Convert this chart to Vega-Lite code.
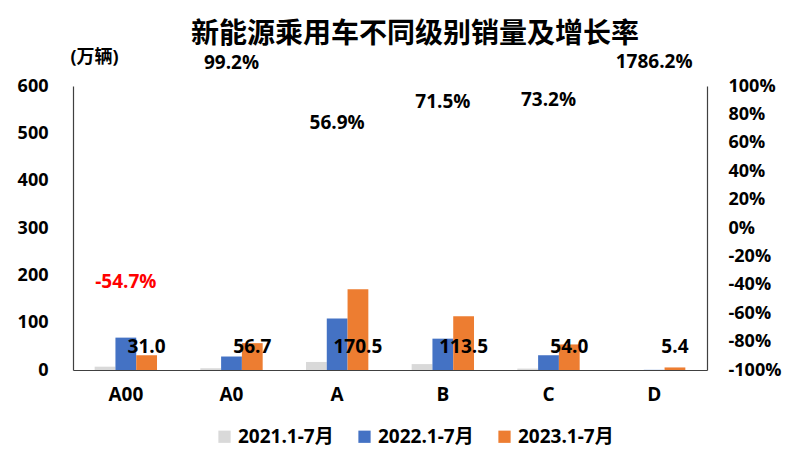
{
  "$schema": "https://vega.github.io/schema/vega-lite/v6.json",
  "width": 634,
  "height": 284,
  "autosize": "none",
  "padding": {"left": 73, "top": 86, "right": 93, "bottom": 93},
  "background": "white",
  "config": {
    "view": {"stroke": null},
    "font": "Open Sans, Noto Sans CJK SC",
    "axis": {"grid": false, "ticks": false, "tickSize": 0, "domainColor": "#404040", "domainWidth": 1.2, "labelColor": "#000", "labelFontSize": 18, "labelFontWeight": "bold", "labelFont": "Open Sans, Noto Sans CJK SC"}
  },
  "title": {"text": "新能源乘用车不同级别销量及增长率", "fontSize": 28, "fontWeight": "bold", "color": "#000", "anchor": "middle", "frame": "group", "dx": 25, "offset": -1, "font": "Noto Sans CJK SC"},
  "datasets": {
    "sales": [
      {"cat": "A00", "series": "2021.1-7月", "value": 7},
      {"cat": "A00", "series": "2022.1-7月", "value": 68.4},
      {"cat": "A00", "series": "2023.1-7月", "value": 31.0},
      {"cat": "A0", "series": "2021.1-7月", "value": 3.5},
      {"cat": "A0", "series": "2022.1-7月", "value": 28.5},
      {"cat": "A0", "series": "2023.1-7月", "value": 56.7},
      {"cat": "A", "series": "2021.1-7月", "value": 17},
      {"cat": "A", "series": "2022.1-7月", "value": 108.7},
      {"cat": "A", "series": "2023.1-7月", "value": 170.5},
      {"cat": "B", "series": "2021.1-7月", "value": 12.5},
      {"cat": "B", "series": "2022.1-7月", "value": 66.2},
      {"cat": "B", "series": "2023.1-7月", "value": 113.5},
      {"cat": "C", "series": "2021.1-7月", "value": 3},
      {"cat": "C", "series": "2022.1-7月", "value": 31.2},
      {"cat": "C", "series": "2023.1-7月", "value": 54.0},
      {"cat": "D", "series": "2021.1-7月", "value": 0},
      {"cat": "D", "series": "2022.1-7月", "value": 0.3},
      {"cat": "D", "series": "2023.1-7月", "value": 5.4}
    ],
    "growth": [
      {"cat": "A00", "growth": -0.547},
      {"cat": "A0", "growth": 0.992},
      {"cat": "A", "growth": 0.569},
      {"cat": "B", "growth": 0.715},
      {"cat": "C", "growth": 0.732},
      {"cat": "D", "growth": 17.862}
    ]
  },
  "layer": [
    {
      "data": {"name": "sales"},
      "layer": [
        {
          "mark": {"type": "bar"},
          "encoding": {
            "x": {"field": "cat", "type": "nominal", "scale": {"domain": ["A00", "A0", "A", "B", "C", "D"], "paddingInner": 0.41, "paddingOuter": 0.205}, "axis": {"title": null, "labelAngle": 0, "labelPadding": 15, "labelFontSize": 19}},
            "xOffset": {"field": "series", "type": "nominal", "scale": {"domain": ["2021.1-7月", "2022.1-7月", "2023.1-7月"], "paddingInner": 0, "paddingOuter": 0}},
            "y": {"field": "value", "type": "quantitative", "scale": {"domain": [0, 600], "nice": false}, "axis": {"values": [0, 100, 200, 300, 400, 500, 600], "labelPadding": 25, "title": "(万辆)", "titleAngle": 0, "titleX": 21, "titleY": -29, "titleAlign": "center", "titleBaseline": "middle", "titleFontSize": 18, "titleFontWeight": "bold", "titleColor": "#000", "titleFont": "Open Sans, Noto Sans CJK SC"}},
            "color": {"field": "series", "type": "nominal", "scale": {"domain": ["2021.1-7月", "2022.1-7月", "2023.1-7月"], "range": ["#D9D9D9", "#4472C4", "#ED7D31"]}, "legend": {"title": null, "orient": "none", "direction": "horizontal", "legendX": 142, "legendY": 341, "symbolType": "square", "symbolSize": 150, "symbolStrokeWidth": 0, "labelFontSize": 19, "labelFontWeight": "bold", "labelColor": "#000", "labelFont": "Open Sans, Noto Sans CJK SC", "columnPadding": 21, "labelOffset": 4}}
          }
        },
        {
          "transform": [{"filter": "datum.series === '2023.1-7月'"}],
          "mark": {"type": "text", "dy": -23, "baseline": "middle", "fontSize": 19, "fontWeight": "bold", "color": "#000"},
          "encoding": {
            "x": {"field": "cat", "type": "nominal"},
            "xOffset": {"field": "series", "type": "nominal"},
            "y": {"datum": 0, "type": "quantitative"},
            "text": {"field": "value", "type": "quantitative", "format": ".1f"}
          }
        }
      ]
    },
    {
      "data": {"name": "growth"},
      "transform": [{"calculate": "replace(format(datum.growth, '.1%'), '\u2212', '-')", "as": "label"}],
      "mark": {"type": "text", "dy": -24, "baseline": "middle", "fontSize": 19, "fontWeight": "bold"},
      "encoding": {
        "x": {"field": "cat", "type": "nominal"},
        "y": {"field": "growth", "type": "quantitative", "scale": {"domain": [-1, 1], "nice": false, "clamp": true}, "axis": {"orient": "right", "values": [-1, -0.8, -0.6, -0.4, -0.2, 0, 0.2, 0.4, 0.6, 0.8, 1], "format": ".0%", "labelExpr": "replace(datum.label, '\u2212', '-')", "labelPadding": 21, "title": null}},
        "text": {"field": "label", "type": "nominal"},
        "color": {"condition": {"test": "datum.growth < 0", "value": "#FF0000"}, "value": "#000"}
      }
    }
  ],
  "resolve": {"scale": {"y": "independent"}}
}
